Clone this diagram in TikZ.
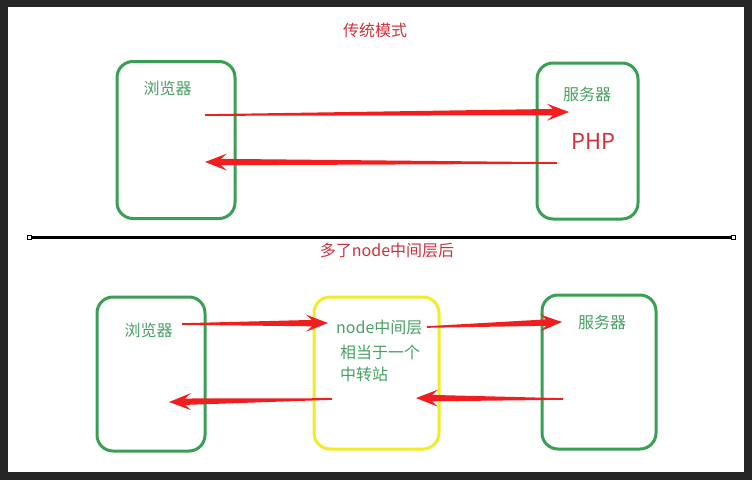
\documentclass[tikz,border=0pt]{standalone}
\usepackage{fontspec}
\newfontfamily\cjk{Noto Sans CJK SC}
\usetikzlibrary{calc}

\definecolor{framegray}{RGB}{38,38,38}
\definecolor{boxgreen}{RGB}{58,158,84}
\definecolor{textgreen}{RGB}{72,160,100}
\definecolor{relayyellow}{RGB}{240,236,40}
\definecolor{titlered}{RGB}{205,50,60}
\definecolor{arrowred}{RGB}{240,30,30}

\tikzset{
  box/.style={draw=boxgreen, line width=3pt, rounded corners=16pt, inner sep=0pt},
  relaybox/.style={box, draw=relayyellow},
  boxtext/.style={font=\cjk\fontsize{16}{20}\selectfont, text=textgreen, inner sep=0pt},
  headtext/.style={boxtext, text=titlered},
  handle/.style={draw, fill=white, line width=0.5pt, minimum size=4pt, inner sep=0pt},
}

% tapered red arrow from #1 to #2
\newcommand{\fatarrow}[2]{%
  \coordinate (hn) at ($(#2)!16pt!(#1)$);
  \coordinate (hw) at ($(#2)!22pt!(#1)$);
  \fill[arrowred] ($(#1)!0.8pt!90:(#2)$) -- ($(hn)!3.2pt!-90:(#1)$)
    -- ($(hw)!8.5pt!-90:(#1)$) -- (#2) -- ($(hw)!8.5pt!90:(#1)$)
    -- ($(hn)!3.2pt!90:(#1)$) -- ($(#1)!0.8pt!-90:(#2)$) -- cycle;
}

\begin{document}
\begin{tikzpicture}[x=1pt,y=-1pt]
  \useasboundingbox (0,0) rectangle (752,480);
  \fill[framegray] (0,0) rectangle (752,480);
  \fill[white] (8,7) rectangle (744,472);

  % traditional mode
  \node[headtext] (title1) at (375,30) {传统模式};
  \node[box, minimum width=118pt, minimum height=157pt] (browserA) at (176,140) {};
  \node[box, minimum width=101pt, minimum height=156pt] (serverA) at (587.5,141) {};
  \node[boxtext] (browserAtxt) at (167.5,88) {浏览器};
  \node[boxtext] (serverAtxt) at (587,94) {服务器};
  \node[headtext, font=\cjk\fontsize{22}{26}\selectfont] (php) at (593.5,141) {PHP};

  \coordinate (a1s) at (205,115);
  \coordinate (a1e) at (569,112);
  \coordinate (a2s) at (557,163);
  \coordinate (a2e) at (205,162);
  \fatarrow{a1s}{a1e}
  \fatarrow{a2s}{a2e}

  % divider
  \node[handle] (divL) at (29,237) {};
  \node[handle] (divR) at (733,237) {};
  \draw[line width=3pt] (divL) -- (divR);

  % with node layer
  \node[headtext] (title2) at (387,250) {多了node中间层后};
  \node[box, minimum width=108pt, minimum height=154pt] (browserB) at (151,374) {};
  \node[relaybox, minimum width=125pt, minimum height=152pt] (relay) at (376.5,373) {};
  \node[box, minimum width=114pt, minimum height=154pt] (serverB) at (599,372) {};
  \node[boxtext] (browserBtxt) at (148.5,330) {浏览器};
  \node[boxtext, anchor=west] (relaytxt1) at (336,327) {node中间层};
  \node[boxtext, anchor=west] (relaytxt2) at (340,352) {相当于一个};
  \node[boxtext, anchor=west] (relaytxt3) at (340,374) {中转站};
  \node[boxtext] (serverBtxt) at (602,322) {服务器};

  \coordinate (b1s) at (182,324);
  \coordinate (b1e) at (328,323);
  \coordinate (b2s) at (427,327);
  \coordinate (b2e) at (562,322);
  \coordinate (b3s) at (332,399);
  \coordinate (b3e) at (169,402);
  \coordinate (b4s) at (563,399);
  \coordinate (b4e) at (416,398);
  \fatarrow{b1s}{b1e}
  \fatarrow{b2s}{b2e}
  \fatarrow{b3s}{b3e}
  \fatarrow{b4s}{b4e}
\end{tikzpicture}
\end{document}
